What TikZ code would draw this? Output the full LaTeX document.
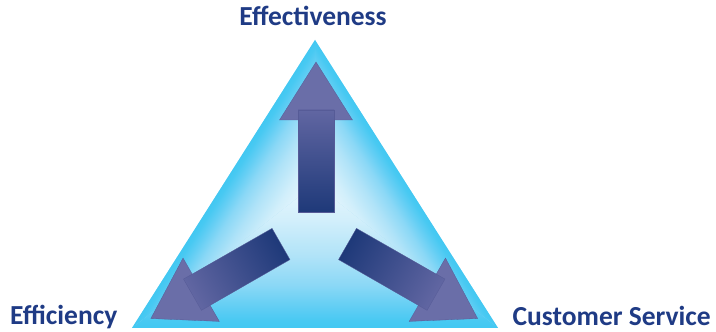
\documentclass[tikz,border=0pt]{standalone}
\usepackage{fontspec}
\setmainfont{Carlito}
\definecolor{labelblue}{HTML}{1F3B85}
\definecolor{rampa}{HTML}{E8F6FD}
\definecolor{rampb}{HTML}{D2EFFB}
\definecolor{rampc}{HTML}{B0E3F8}
\definecolor{rampd}{HTML}{8BD8F6}
\definecolor{rampe}{HTML}{62CEF4}
\definecolor{rampf}{HTML}{48C9F2}
\definecolor{cyanedge}{HTML}{42C8F2}
\definecolor{trimid}{HTML}{9FDDF7}
\definecolor{shaftdark}{HTML}{1E3979}
\definecolor{shaftlight}{HTML}{6166A2}
\definecolor{headfill}{HTML}{6A6EA8}
\definecolor{arrowedge}{HTML}{565B97}
% centre-to-edge ramp; the path's extent maps to 25bp..75bp
\pgfdeclarehorizontalshading{edgeramp}{100bp}{%
  color(0bp)=(rampa); color(25bp)=(rampa); color(37.5bp)=(rampb);
  color(50bp)=(rampc); color(60bp)=(rampd); color(67.5bp)=(rampe);
  color(72.5bp)=(rampf); color(75bp)=(cyanedge); color(100bp)=(cyanedge)}
\tikzset{
  label text/.style={font=\bfseries\fontsize{27.5}{32}\selectfont, text=labelblue, inner sep=0pt},
  shaft/.style={left color=shaftdark, right color=shaftlight, draw=arrowedge, line width=0.3pt},
  head/.style={fill=headfill, draw=arrowedge, line width=0.3pt}
}
% one sector of the triangle: clip corners, direction of the ramp, depth
\newcommand\trisector[4]{%
  \begin{scope}
    \clip (ctr) -- (#1) -- (#2) -- cycle;
    \begin{scope}[transform canvas={shift={(ctr)}, rotate=#3}]
      \shade[shading=edgeramp] (0,-260) rectangle (#4,260);
    \end{scope}
  \end{scope}}
% block arrow: tail point, direction angle
\newcommand\blockarrow[2]{%
  \begin{scope}[transform canvas={shift={(#1)}, rotate=#2}]
    \path[head] (92,-36.5) -- (150,0) -- (92,36.5) -- cycle;
    \shade[shaft] (0,-18) rectangle (102,18);
  \end{scope}}
\begin{document}
\begin{tikzpicture}[x=1pt,y=1pt]
  \useasboundingbox (0,0) rectangle (716,332);
  \coordinate (apex) at (315,292);
  \coordinate (left) at (132,4);
  \coordinate (right) at (498,4);
  \coordinate (ctr) at (315,148);
  % triangle with its light centre fading to cyan at every side
  \fill[trimid] (left) -- (right) -- (apex) -- cycle;
  \trisector{left}{right}{-90}{144}
  \trisector{left}{apex}{147.57}{77.23}
  \trisector{apex}{right}{32.43}{77.23}
  % the three arrows
  \coordinate (uptail) at (316,120);
  \coordinate (lefttail) at (281,88);
  \coordinate (righttail) at (347.5,88);
  \blockarrow{uptail}{90}
  \blockarrow{lefttail}{209.8}
  \blockarrow{righttail}{-29.8}
  % labels
  \node[label text, anchor=base] (eff) at (313,306) {Effectiveness};
  \node[label text, anchor=base west] (efc) at (10,7) {Efficiency};
  \node[label text, anchor=base east] (cs) at (711,6) {Customer Service};
\end{tikzpicture}
\end{document}
